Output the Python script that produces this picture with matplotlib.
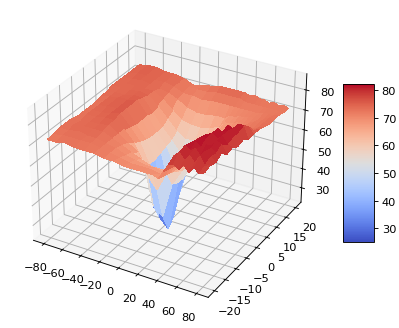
import numpy as np
import matplotlib
matplotlib.use("Agg")
import matplotlib.pyplot as plt
from matplotlib import cm

x_vals = [-80,-70,-60,-50,-40,-30,-20,-10,0,10,20,30,35,40,45,50,55,60,65,70,75,80]
y_vals = [-20,-17.5,-15,-12.5,-10,-7.5,-5,-2.5,0,2.5,5,7.5,10,12.5,15,17.5,20]
z_rows = [
 [72,72,73,72,72,72,71,71,70,70,70,70,69,73,77,78,76,79,76,79,77,78],
 [72,73,73,73,73,72,71,70,69,69,69,68,68,72,79,81,78,81,78,82,78,79],
 [73,73,74,73,73,72,71,69,68,67,67,66,67,71,78,82,80,82,79,82,80,78],
 [73,74,74,74,74,72,70,68,66,64,64,64,66,68,75,81,82,80,82,81,79,80],
 [73,73,74,74,75,72,69,66,56,50,60,62,65,66,71,80,82,82,79,82,81,77],
 [72,74,74,75,75,72,67,58,38,34,52,60,63,65,68,75,81,82,80,82,79,78],
 [72,74,74,75,76,71,65,55,30,25,50,60,63,64,66,71,79,82,81,82,80,76],
 [72,74,75,75,76,70,64,55,28,29,50,59,62,64,66,67,70,76,82,81,80,77],
 [72,74,75,75,76,70,63,56,36,38,54,60,63,65,66,67,69,71,78,81,81,75],
 [73,74,75,75,76,70,63,57,46,49,56,61,64,65,67,68,69,71,73,77,78,75],
 [73,74,74,75,75,69,63,58,52,54,58,61,65,66,67,68,70,71,72,73,74,75],
 [74,74,74,75,74,70,65,60,57,58,60,62,66,67,68,69,70,71,72,72,73,74],
 [74,74,74,74,74,71,67,63,62,62,63,65,68,68,69,70,70,71,72,72,73,73],
 [74,74,75,74,73,72,70,67,66,66,67,67,69,69,70,70,71,71,71,72,73,73],
 [74,75,75,74,74,73,71,71,70,71,71,71,71,71,71,71,71,71,72,72,72,73],
 [74,75,75,74,74,73,72,72,72,73,73,73,73,72,72,72,72,72,72,72,72,72],
 [74,75,75,74,74,73,71,72,73,74,74,74,74,73,74,73,73,72,73,72,73,72],
]
x_ticks = [-80,-60,-40,-20,0,20,40,60,80]
y_ticks = [-20,-15,-10,-5,0,5,10,15,20]
z_ticks = [30,40,50,60,70,80]

X, Y = np.meshgrid(x_vals, y_vals)
Z = np.array(z_rows, dtype=float)

W, H = 399, 329
fig = plt.figure(figsize=(W/82, H/82), dpi=82)
ax = fig.add_axes([-1/W, 11/H, 333/W, 311/H], projection='3d')
surf = ax.plot_surface(X, Y, Z, cmap=cm.coolwarm, linewidth=0, antialiased=False, vmin=25, vmax=82.2, rcount=50, ccount=50)
ax.set_xticks(x_ticks)
ax.set_yticks(y_ticks)
ax.set_zticks(z_ticks)
ax.set_zlim(22.4, 88)
cax = fig.add_axes([342.7/W, (H-243.3)/H, 31/W, 158.3/H])
fig.colorbar(surf, cax=cax)
fig.savefig('out.png', dpi=82)
